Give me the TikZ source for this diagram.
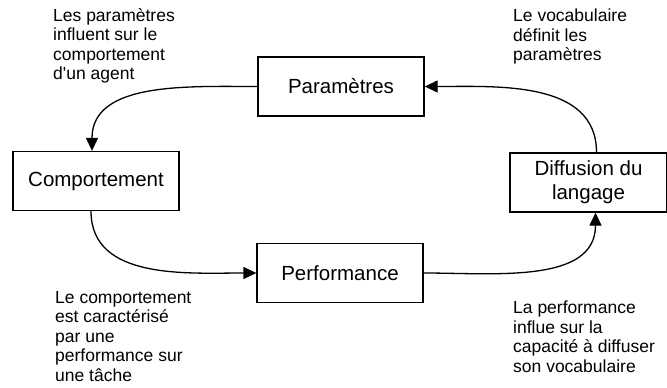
\documentclass[tikz,border=0pt]{standalone}
\usepackage{fontspec}
\setmainfont{Liberation Sans}[Ligatures=TeXOff]
\usepackage{tikz}
\usetikzlibrary{shapes,arrows.meta}
\tikzstyle{block} = [rectangle, draw, line width=1.3pt, inner sep=0pt,
    minimum width=166pt, minimum height=59pt, align=center,
    font=\fontsize{20.5}{24}\selectfont]
\tikzstyle{note} = [inner sep=0pt, anchor=north west, align=left,
    font=\fontsize{17.5}{19.5}\selectfont]
\tikzstyle{line} = [draw, line width=1.3pt, -{Triangle[length=13pt,width=12pt]}]

\begin{document}
\begin{tikzpicture}[x=1pt, y=-1pt]
    \useasboundingbox (0,0) rectangle (667,388);
    % Place nodes

    \node [block] (param) at (341,86.5) {Paramètres};
    \node [block] (comp) at (96,181) {Comportement};
    \node [block] (perf) at (340,273) {Performance};
    \node [block, minimum width=157pt] (diff) at (588.5,182.5) {Diffusion du\\langage};

    % Texts
    \node [note] (note_1) at (53,8) {Les paramètres\\influent sur le\\comportement\\d'un agent};
    \node [note] (note_2) at (513,9) {Le vocabulaire\\définit les\\paramètres};
    \node [note] (note_3) at (55,291) {Le comportement\\est caractérisé\\par une\\performance sur\\une tâche};
    \node [note] (note_4) at (513,301) {La performance\\influe sur la\\capacité à diffuser\\son vocabulaire};

    \path [line] (param.west) to[out=180, in=90] ([xshift=-4pt]comp.north);
    \path [line] ([xshift=-5pt]comp.south) to[out=-90, in=180] (perf.west);
    \path [line] (perf.east) to[out=0, in=-90] ([xshift=7pt]diff.south);
    \path [line] ([xshift=8pt]diff.north) to[out=90, in=0] (param.east);

\end{tikzpicture}
\end{document}
